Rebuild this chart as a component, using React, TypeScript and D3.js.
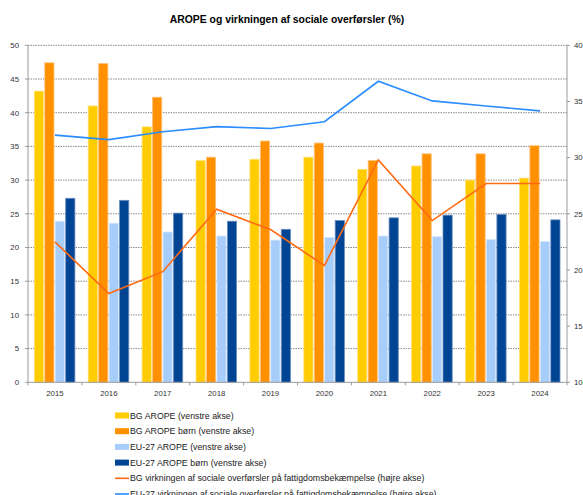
import React from "react";
import * as d3 from "d3";

const years = ["2015","2016","2017","2018","2019","2020","2021","2022","2023","2024"];
const bgArope = [43.2, 41.0, 37.9, 32.9, 33.1, 33.4, 31.6, 32.1, 30.0, 30.3];
const bgAropeChildren = [47.4, 47.3, 42.3, 33.4, 35.8, 35.5, 32.9, 33.9, 33.9, 35.1];
const euArope = [23.9, 23.6, 22.3, 21.7, 21.1, 21.5, 21.7, 21.6, 21.2, 20.9];
const euAropeChildren = [27.3, 27.0, 25.1, 23.9, 22.7, 24.0, 24.4, 24.8, 24.9, 24.1];
const bgImpact = [22.5, 17.9, 19.85, 25.4, 23.6, 20.4, 29.8, 24.4, 27.7, 27.7];
const euImpact = [32.0, 31.6, 32.3, 32.76, 32.6, 33.2, 36.8, 35.05, 34.6, 34.16];
const leftTicks = [0, 5, 10, 15, 20, 25, 30, 35, 40, 45, 50];
const rightTicks = [10, 15, 20, 25, 30, 35, 40];

const barSeries = [
  { name: "BG AROPE (venstre akse)", values: bgArope, color: "#FFCC00", edge: "#FFE27A" },
  { name: "BG AROPE børn (venstre akse)", values: bgAropeChildren, color: "#FF9100", edge: "#FFC27A" },
  { name: "EU-27 AROPE (venstre akse)", values: euArope, color: "#A7CDFB", edge: "#D3E6FD" },
  { name: "EU-27 AROPE børn (venstre akse)", values: euAropeChildren, color: "#004494", edge: "#6A8FC2" },
];
const lineSeries = [
  { name: "BG virkningen af sociale overførsler på fattigdomsbekæmpelse (højre akse)", values: bgImpact, color: "#FF6A13" },
  { name: "EU-27 virkningen af sociale overførsler på fattigdomsbekæmpelse (højre akse)", values: euImpact, color: "#2B8CFF" },
];

export default function App() {
  const W = 583, H = 495;
  const left = 28, right = 567, top = 45.3, bottom = 382.3;
  const x = d3.scaleBand().domain(years).range([left, right]).paddingInner(0).paddingOuter(0);
  const yL = d3.scaleLinear().domain([0, 50]).range([bottom, top]);
  const yR = d3.scaleLinear().domain([10, 40]).range([bottom, top]);
  const inner = d3.scaleBand().domain(["0","1","2","3"]).range([6.3, x.bandwidth() - 7]).paddingInner(0.12);
  const font = "'Liberation Sans', Arial, sans-serif";
  const lineGen = (vals: number[]) =>
    d3.line<number>().x((_, i) => (x(years[i]) as number) + x.bandwidth() / 2).y((v) => yR(v))(vals) as string;

  return (
    <svg width={W} height={H} style={{ position: "absolute", left: 0, top: 0 }} fontFamily={font}>
      <rect width={W} height={H} fill="#fff" />
      <text x={287} y={23} textAnchor="middle" fontSize={10.4} fontWeight="bold" fill="#000">
        AROPE og virkningen af sociale overførsler (%)
      </text>
      {leftTicks.filter((t) => t > 0).map((t) => (
        <line key={t} x1={left} x2={right} y1={yL(t)} y2={yL(t)} stroke="#8a8a8a" strokeWidth={1} strokeDasharray="1.5,1" />
      ))}
      {barSeries.map((s, si) =>
        s.values.map((v, i) => (
          <rect
            key={si + "-" + i}
            x={(x(years[i]) as number) + (inner(String(si)) as number)}
            y={yL(v)}
            width={inner.bandwidth()}
            height={yL(0) - yL(v)}
            fill={s.color}
            stroke={s.edge}
            strokeWidth={0.8}
          />
        ))
      )}
      {lineSeries.map((s) => (
        <path key={s.name} d={lineGen(s.values)} fill="none" stroke={s.color} strokeWidth={1.6} />
      ))}
      {/* left axis */}
      <line x1={left} x2={left} y1={top} y2={bottom} stroke="#9a9a9a" />
      {leftTicks.map((t) => (
        <g key={t}>
          <line x1={left - 3} x2={left} y1={yL(t)} y2={yL(t)} stroke="#9a9a9a" />
          <text x={19} y={yL(t) + 2.8} textAnchor="end" fontSize={7.8} fill="#333">{t}</text>
        </g>
      ))}
      {/* right axis */}
      <line x1={right} x2={right} y1={top} y2={bottom} stroke="#9a9a9a" />
      {rightTicks.map((t) => (
        <g key={t}>
          <line x1={right} x2={right + 3} y1={yR(t)} y2={yR(t)} stroke="#9a9a9a" />
          <text x={574} y={yR(t) + 2.8} textAnchor="start" fontSize={7.8} fill="#333">{t}</text>
        </g>
      ))}
      {/* x axis */}
      <line x1={left} x2={right} y1={bottom} y2={bottom} stroke="#9a9a9a" />
      {years.map((yr, i) => (
        <g key={yr}>
          <line x1={(x(yr) as number)} x2={(x(yr) as number)} y1={bottom} y2={bottom + 3} stroke="#9a9a9a" />
          <text x={(x(yr) as number) + x.bandwidth() / 2} y={395.5} textAnchor="middle" fontSize={7.8} fill="#333">{yr}</text>
        </g>
      ))}
      <line x1={right} x2={right} y1={bottom} y2={bottom + 3} stroke="#9a9a9a" />
      {/* legend */}
      {barSeries.map((s, i) => (
        <g key={s.name}>
          <rect x={115} y={412.5 + i * 15.7} width={14} height={6} fill={s.color} />
          <text x={130} y={418.5 + i * 15.7} fontSize={8.8} fill="#222">{s.name}</text>
        </g>
      ))}
      {lineSeries.map((s, j) => {
        const i = j + 4;
        return (
          <g key={s.name}>
            <line x1={115} x2={129} y1={415.5 + i * 15.7} y2={415.5 + i * 15.7} stroke={s.color} strokeWidth={1.6} />
            <text x={130} y={418.5 + i * 15.7} fontSize={8.8} fill="#222">{s.name}</text>
          </g>
        );
      })}
    </svg>
  );
}
